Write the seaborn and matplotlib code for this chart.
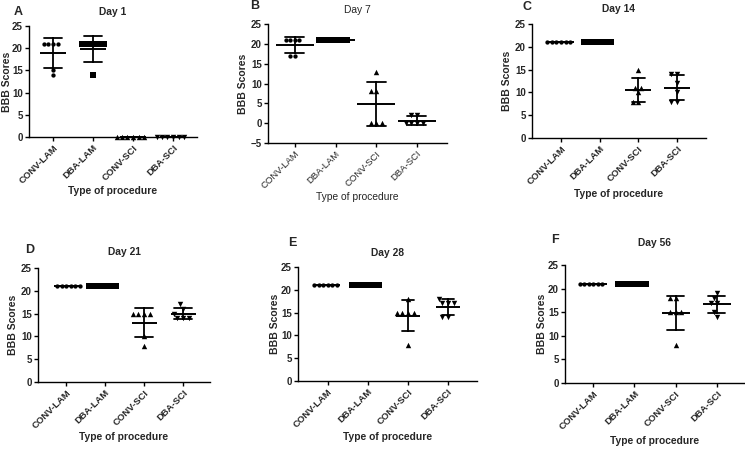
import matplotlib
matplotlib.use("Agg")
import matplotlib.pyplot as plt
import seaborn as sns
import pandas as pd

sns.set_style("ticks")
plt.rcParams['font.family'] = ['Liberation Sans', 'DejaVu Sans']

groups = ["CONV-LAM", "DBA-LAM", "CONV-SCI", "DBA-SCI"]
markers = ["o", "s", "^", "v"]
days = ["Day 1", "Day 7", "Day 14", "Day 21", "Day 28", "Day 56"]
letters = ["A", "B", "C", "D", "E", "F"]

# BBB scores per animal (n = 6), order: CONV-LAM, DBA-LAM, CONV-SCI, DBA-SCI
day1 = [[21, 21, 21, 21, 15, 14], [21, 21, 21, 21, 21, 14],
        [0, 0, 0, 0, 0, 0], [0, 0, 0, 0, 0, 0]]
day7 = [[21, 21, 21, 21, 17, 17], [21, 21, 21, 21, 21, 21],
        [13, 8, 8, 0, 0, 0], [2, 2, 0, 0, 0, 0]]
day14 = [[21, 21, 21, 21, 21, 21], [21, 21, 21, 21, 21, 21],
         [15, 11, 11, 10, 8, 8], [14, 14, 12, 10, 8, 8]]
day21 = [[21, 21, 21, 21, 21, 21], [21, 21, 21, 21, 21, 21],
         [15, 15, 15, 15, 10, 8], [17, 16, 15, 14, 14, 14]]
day28 = [[21, 21, 21, 21, 21, 21], [21, 21, 21, 21, 21, 21],
         [18, 15, 15, 15, 15, 8], [18, 17, 17, 17, 14, 14]]
day56 = [[21, 21, 21, 21, 21, 21], [21, 21, 21, 21, 21, 21],
         [18, 18, 15, 15, 15, 8], [19, 18, 17, 17, 15, 14]]
all_days = [day1, day7, day14, day21, day28, day56]

W, H = 745, 449
fig = plt.figure(figsize=(W / 100, H / 100), dpi=100)

# layout in pixels: x0, x1, ytop, ybottom
boxes = [(29, 197, 26, 137), (268, 447, 24, 143), (532, 706, 24, 138),
         (38, 210, 268, 382), (298, 477, 267, 381), (565, 745, 265, 383)]
ylims = [(0, 25), (-5, 25), (0, 25), (0, 25), (0, 25), (0, 25)]
yticks = [range(0, 26, 5), range(-5, 26, 5), range(0, 26, 5),
          range(0, 26, 5), range(0, 26, 5), range(0, 26, 5)]
xlims = [(-0.6, 3.6), (-0.66, 3.74), (-0.75, 3.75),
         (-0.72, 3.69), (-0.75, 3.73), (-0.68, 3.68)]
capsizes = [0.45, 0.47, 0.34, 0.46, 0.3, 0.41]
meanw = [19.4, 27, 19.4, 18, 17.3, 20]
title_pads = [8, 8, 8.5, 9.5, 8, 13.5]
xlab_y = [-0.44, -0.41, -0.446, -0.437, -0.446, -0.448]
ylab_x = [-0.101, -0.112, -0.115, -0.116, -0.10, -0.10]
letter_pos = [(18, 12), (255, 6), (527, 7), (30, 250), (292, 243), (555, 240)]
msize = {"o": 3.1, "s": 3.9, "^": 3.9, "v": 3.9}

for k in range(6):
    x0, x1, yt, yb = boxes[k]
    ax = fig.add_axes([x0 / W, 1 - yb / H, (x1 - x0) / W, (yb - yt) / H])
    rows = []
    for g, vals in zip(groups, all_days[k]):
        for v in vals:
            rows.append({"group": g, "score": v})
    df = pd.DataFrame(rows)

    for g, m in zip(groups, markers):
        sub = df[df["group"] == g]
        sns.swarmplot(data=sub, x="group", y="score", order=groups, marker=m,
                      color="black", size=msize[m], linewidth=0, ax=ax,
                      clip_on=False, zorder=3, warn_thresh=1.0)
    sns.pointplot(data=df, x="group", y="score", order=groups, errorbar="sd",
                  capsize=capsizes[k], color="black", linestyle="none",
                  marker="_", markersize=meanw[k], markeredgewidth=1.4,
                  err_kws={"linewidth": 1.3}, ax=ax, zorder=4)

    ax.set_xlim(*xlims[k])
    ax.set_ylim(*ylims[k])
    ax.set_yticks(list(yticks[k]))
    ax.set_xticks(range(4))
    bold = "normal" if k == 1 else "bold"
    ax.set_xticklabels(groups, rotation=45, ha="right", rotation_mode="anchor",
                       fontsize=6.8, fontweight=bold)
    for lab in ax.get_yticklabels():
        lab.set_fontsize(7)
        lab.set_fontweight("bold")
    ax.tick_params(axis="both", direction="out", length=3, width=1.0,
                   color="black", pad=1.5)
    for side in ["top", "right"]:
        ax.spines[side].set_visible(False)
    for side in ["left", "bottom"]:
        ax.spines[side].set_linewidth(1.0)
        ax.spines[side].set_color("black")
    ax.set_xlabel("Type of procedure", fontsize=7.4, fontweight=bold)
    ax.xaxis.set_label_coords(0.5, xlab_y[k])
    ax.set_ylabel("BBB Scores", fontsize=7.5, fontweight="bold")
    ax.yaxis.set_label_coords(ylab_x[k], 0.5)
    ax.set_title(days[k], fontsize=7.4, fontweight=bold, pad=title_pads[k])
    lx, ly = letter_pos[k]
    fig.text(lx / W, 1 - ly / H, letters[k], fontsize=9, fontweight="bold",
             ha="center", va="center")

fig.savefig("out.png", dpi=100, facecolor="white")
